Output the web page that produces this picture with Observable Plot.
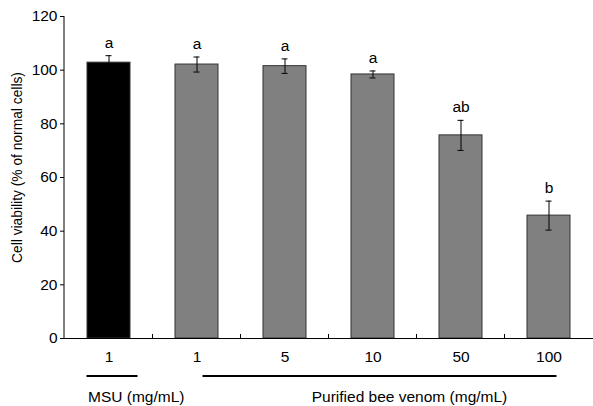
<!DOCTYPE html>
<html><head><meta charset="utf-8">
<script src="https://cdn.jsdelivr.net/npm/d3@7"></script>
<script src="https://cdn.jsdelivr.net/npm/@observablehq/plot@0.6"></script>
<style>body{margin:0;background:#fff}</style>
</head><body><div id="chart"></div>
<script>
// ---- data ----
const ids = ["MSU 1", "BV 1", "BV 5", "BV 10", "BV 50", "BV 100"];
const tickLabels = ["1", "1", "5", "10", "50", "100"];
const groupOf = ["MSU", "BV", "BV", "BV", "BV", "BV"];
const means = [102.8, 102.1, 101.5, 98.4, 75.7, 45.8];
const errors = [2.6, 2.8, 2.7, 1.3, 5.6, 5.4];
const letters = ["a", "a", "a", "a", "ab", "b"];
const groupKeys = ["MSU", "BV"];
const groupTexts = ["MSU (mg/mL)", "Purified bee venom (mg/mL)"];
const yTicks = [0, 20, 40, 60, 80, 100, 120];
const yLabel = "Cell viability (% of normal cells)";

const rows = ids.map((id, i) => ({id, group: groupOf[i], mean: means[i], err: errors[i], letter: letters[i], lo: means[i] - errors[i], hi: means[i] + errors[i]}));
const tickMap = new Map(ids.map((id, i) => [id, tickLabels[i]]));

// ---- styling (not data) ----
const FONT = "'Liberation Sans', Arial, Helvetica, sans-serif";
const colorFor = {MSU: "#000000", BV: "#808080"};
const groupLineOffsets = {MSU: [-22, 29], BV: [6, 8]};
const groupTextPos = {MSU: {dx: -20.5, anchor: "start"}, BV: {dx: 37, anchor: "middle"}};

function extras(index, scales, values, dims) {
  const x = scales.x, y = scales.y;
  const n = ids.length;
  const step = x(ids[1]) - x(ids[0]);
  const bw = x.bandwidth ? x.bandwidth() : step * 0.49;
  const c = id => x(id) + bw / 2;
  const y0 = y(0);
  const g = d3.create("svg:g").attr("font-family", FONT).attr("font-size", 15.5);
  // y axis line
  g.append("line").attr("x1", dims.marginLeft).attr("x2", dims.marginLeft)
    .attr("y1", y(120)).attr("y2", y0).attr("stroke", "#000");
  // y axis title
  const ly = (y(120) + y0) / 2 - 9.5;
  g.append("text").attr("transform", `translate(${dims.marginLeft - 46.5},${ly}) rotate(-90)`)
    .attr("text-anchor", "middle").attr("dy", "0.32em").attr("font-size", 13.8).attr("fill", "#000").text(yLabel);
  // minor ticks between bars
  for (let i = 0; i < n - 1; i++) {
    const xb = (x(ids[i]) + bw + x(ids[i + 1])) / 2;
    g.append("line").attr("x1", xb).attr("x2", xb).attr("y1", y0).attr("y2", y0 - 4).attr("stroke", "#000");
  }
  // group lines and labels
  groupKeys.forEach((k, gi) => {
    const members = ids.filter((id, i) => groupOf[i] === k);
    const first = c(members[0]), last = c(members[members.length - 1]);
    const [o1, o2] = groupLineOffsets[k];
    g.append("line").attr("x1", first + o1).attr("x2", last + o2)
      .attr("y1", y0 + 38).attr("y2", y0 + 38).attr("stroke", "#000").attr("stroke-width", 2);
    const tp = groupTextPos[k];
    const tx = tp.anchor === "start" ? first + tp.dx : (first + last) / 2 + tp.dx;
    g.append("text").attr("x", tx).attr("y", y0 + 64).attr("text-anchor", tp.anchor)
      .attr("fill", "#000").text(groupTexts[gi]);
  });
  return g.node();
}

const chart = Plot.plot({
  width: 593,
  height: 406,
  marginLeft: 64,
  marginRight: 0,
  marginTop: 16,
  marginBottom: 68,
  style: {fontFamily: FONT, fontSize: "15px", background: "#fff", color: "#000", overflow: "visible"},
  x: {domain: ids, paddingInner: 0.51, paddingOuter: 0.25, axis: null},
  y: {domain: [0, 120], axis: null},
  marks: [
    Plot.barY(rows, {x: "id", y: "mean", fill: d => colorFor[d.group], stroke: "#333", strokeWidth: 1}),
    Plot.ruleX(rows, {x: "id", y1: "lo", y2: "hi", stroke: "#000", strokeWidth: 1}),
    Plot.tickY(rows, {x: "id", y: "hi", stroke: "#000", insetLeft: 18.5, insetRight: 18.5}),
    Plot.tickY(rows, {x: "id", y: "lo", stroke: "#000", insetLeft: 18.5, insetRight: 18.5}),
    Plot.text(rows, {x: "id", y: "hi", text: "letter", dy: -8, lineAnchor: "bottom", fontSize: 15.5, fill: "#000"}),
    Plot.ruleY([0], {stroke: "#000"}),
    Plot.axisY({ticks: yTicks, tickSize: 4, tickPadding: 3, fontSize: 15.5, label: null}),
    Plot.axisX({tickSize: 0, tickPadding: 12, fontSize: 15.5, tickFormat: d => tickMap.get(d), label: null}),
    extras
  ]
});
document.getElementById("chart").appendChild(chart);
</script>
</body></html>
